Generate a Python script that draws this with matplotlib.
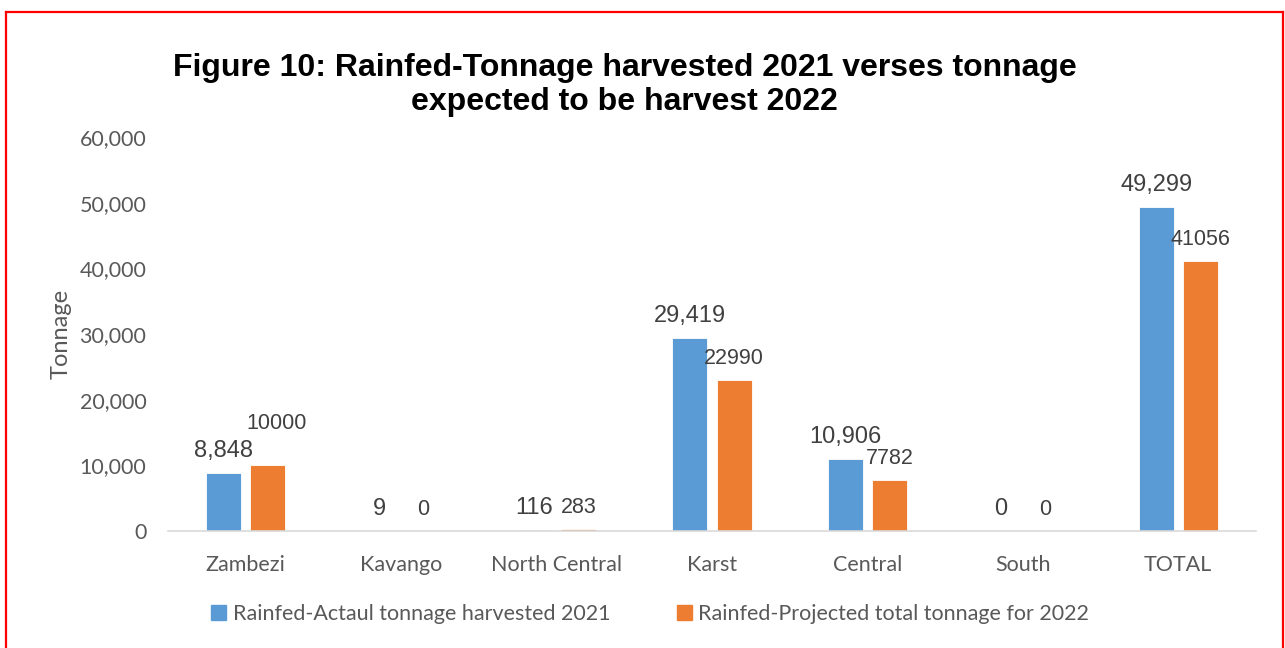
import matplotlib
matplotlib.use("Agg")
import matplotlib.pyplot as plt
from matplotlib.lines import Line2D
from matplotlib.patches import Patch
import numpy as np

# Regional rainfed tonnage, harvested 2021 vs projected 2022
REGIONS = ["Zambezi", "Kavango", "North Central", "Karst", "Central", "South", "TOTAL"]
HARVESTED_2021 = [8848, 9, 116, 29419, 10906, 0, 49299]
PROJECTED_2022 = [10000, 0, 283, 22990, 7782, 0, 41056]

SERIES_NAMES = ["Rainfed-Actaul tonnage harvested 2021",
                "Rainfed-Projected total tonnage for 2022"]
Y_TICKS = [0, 10000, 20000, 30000, 40000, 50000, 60000]

BLUE = "#5B9BD5"
ORANGE = "#ED7D31"
GREY_TEXT = "#595959"
LABEL_TEXT = "#404040"

BODY_FONT = ["Lato", "DejaVu Sans"]
LABEL_FONT = ["Liberation Sans", "DejaVu Sans"]

# the Zambezi 2022 label sits higher and to the right (dx, dy in points)
LABEL_NUDGE = {(1, 0): (6.5, 14.5)}

fig = plt.figure(figsize=(12.85, 6.48), dpi=100)
ax = fig.add_axes([0.1307, 0.1806, 0.8467, 0.608])

x = np.arange(len(REGIONS))
width = 0.225
offset = 0.142
bars_a = ax.bar(x - offset, HARVESTED_2021, width, color=BLUE,
                edgecolor="white", linewidth=0.6, zorder=2)
bars_b = ax.bar(x + offset, PROJECTED_2022, width, color=ORANGE,
                edgecolor="white", linewidth=0.6, zorder=2)

# blue labels use thousands separators, orange ones don't
for s, (bars, vals) in enumerate([(bars_a, HARVESTED_2021), (bars_b, PROJECTED_2022)]):
    for i, (b, v) in enumerate(zip(bars, vals)):
        text = f"{v:,}" if s == 0 else f"{v}"
        dx, dy = LABEL_NUDGE.get((s, i), (0, 0))
        ax.annotate(text, (b.get_x() + b.get_width() / 2, v),
                    xytext=(dx, 11.5 + dy), textcoords="offset points",
                    ha="center", va="baseline", color=LABEL_TEXT,
                    fontsize=17 if s == 0 else 15.5, family=LABEL_FONT)

ax.set_xlim(-0.5, len(REGIONS) - 0.5)
ax.set_ylim(0, 60000)
ax.set_yticks(Y_TICKS)
ax.set_yticklabels([f"{t:,}" for t in Y_TICKS], family=BODY_FONT,
                   fontsize=15.5, color=GREY_TEXT)
ax.set_xticks(x)
ax.set_xticklabels(REGIONS, family=BODY_FONT, fontsize=15.5, color=GREY_TEXT)
ax.tick_params(axis="both", length=0)
ax.tick_params(axis="y", pad=15.5)
ax.tick_params(axis="x", pad=17)

for side in ["top", "right", "left"]:
    ax.spines[side].set_visible(False)
ax.spines["bottom"].set_color("#D9D9D9")
ax.spines["bottom"].set_linewidth(1.2)

ax.set_ylabel("Tonnage", family=BODY_FONT, fontsize=17, color=GREY_TEXT,
              labelpad=6)

fig.text(0.486, 0.830, "Figure 10: Rainfed-Tonnage harvested 2021 verses tonnage\n"
         "expected to be harvest 2022", ha="center", va="baseline",
         family=LABEL_FONT, fontsize=23, fontweight="bold", linespacing=1.2)

handles = [Patch(color=BLUE), Patch(color=ORANGE)]
fig.legend(handles, SERIES_NAMES, loc="center", bbox_to_anchor=(0.506, 0.052),
           ncol=2, frameon=False, handlelength=0.7, handleheight=0.7,
           handletextpad=0.3, columnspacing=3.1,
           prop={"family": BODY_FONT, "size": 15.5})
for t in fig.legends[0].get_texts():
    t.set_color(GREY_TEXT)

# red frame around the chart area (bottom edge runs off the page)
W, H = 1285, 648
frame = [((6, 6), (H, 12)), ((6, 1283), (12, 12)), ((1283, 1283), (12, H))]
for xs, ys in frame:
    fig.add_artist(Line2D([xs[0] / W, xs[1] / W], [1 - ys[0] / H, 1 - ys[1] / H],
                          transform=fig.transFigure, color="red", linewidth=1.6))

fig.savefig("out.png", dpi=100)
